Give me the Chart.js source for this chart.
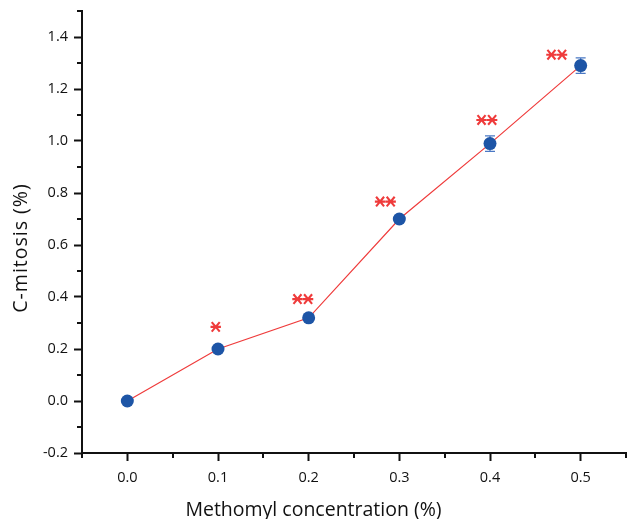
<!DOCTYPE html>
<html>
<head>
<meta charset="utf-8">
<script src="https://cdn.jsdelivr.net/npm/chart.js@4/dist/chart.umd.min.js"></script>
<style>
  html, body { margin: 0; padding: 0; background: #fff; }
  #wrap { width: 627px; height: 519px; position: relative; }
</style>
</head>
<body>
<div id="wrap"><canvas id="myChart"></canvas></div>
<script>
const concentrations = [0.0, 0.1, 0.2, 0.3, 0.4, 0.5];
const mitosis = [0.0, 0.20, 0.32, 0.70, 0.99, 1.29];
const errors = [0.0, 0.005, 0.01, 0.012, 0.03, 0.03];
const sigText = ['', '*', '**', '**', '**', '**'];
const sigX = [null, 0.0975, 0.1935, 0.2846, 0.3965, 0.4736];
const sigY = [null, 0.285, 0.392, 0.767, 1.081, 1.332];

const FONT = "'Open Sans', 'Noto Sans', sans-serif";
const BLUE = '#1d55a6';
const RED = '#ef3b3b';

const isMajorX = v => Math.abs(Math.round(v * 100)) % 10 === 0;
const isMajorY = v => Math.abs(Math.round(v * 10)) % 2 === 0;
const fmt = v => (Math.abs(v) < 1e-9 ? 0 : v).toFixed(1);

// minor ticks, error bars, significance stars, axis titles
const extras = {
    id: 'extras',
    beforeDatasetsDraw(chart) {
        const { ctx, scales: { x, y } } = chart;
        ctx.save();
        ctx.strokeStyle = '#4a78c4';
        ctx.lineWidth = 1.3;
        concentrations.forEach((c, i) => {
            if (!errors[i]) return;
            const px = x.getPixelForValue(c);
            const top = y.getPixelForValue(mitosis[i] + errors[i]);
            const bot = y.getPixelForValue(mitosis[i] - errors[i]);
            ctx.beginPath();
            ctx.moveTo(px, top); ctx.lineTo(px, bot);
            ctx.moveTo(px - 5, top); ctx.lineTo(px + 5, top);
            ctx.moveTo(px - 5, bot); ctx.lineTo(px + 5, bot);
            ctx.stroke();
        });
        ctx.restore();
    },
    afterDraw(chart) {
        const { ctx, chartArea, scales: { x, y } } = chart;
        ctx.save();
        // minor ticks
        ctx.strokeStyle = '#111';
        ctx.lineWidth = 2;
        ctx.beginPath();
        x.ticks.forEach(t => {
            if (isMajorX(t.value)) return;
            const px = Math.round(x.getPixelForValue(t.value));
            ctx.moveTo(px, chartArea.bottom); ctx.lineTo(px, chartArea.bottom + 5);
        });
        y.ticks.forEach(t => {
            if (isMajorY(t.value)) return;
            const py = Math.round(y.getPixelForValue(t.value));
            ctx.moveTo(chartArea.left, py); ctx.lineTo(chartArea.left - 5, py);
        });
        ctx.stroke();

        // significance stars
        ctx.strokeStyle = RED;
        ctx.lineWidth = 2.1;
        const star = (cx, cy) => {
            ctx.moveTo(cx - 5.2, cy); ctx.lineTo(cx + 5.2, cy);
            ctx.moveTo(cx - 4, cy - 4.8); ctx.lineTo(cx + 4, cy + 4.8);
            ctx.moveTo(cx + 4, cy - 4.8); ctx.lineTo(cx - 4, cy + 4.8);
        };
        ctx.beginPath();
        sigText.forEach((s, i) => {
            if (!s) return;
            const cx = x.getPixelForValue(sigX[i]);
            const cy = y.getPixelForValue(sigY[i]);
            if (s.length === 1) star(cx, cy);
            else { star(cx - 5.3, cy); star(cx + 5.3, cy); }
        });
        ctx.stroke();

        // axis titles
        ctx.fillStyle = '#111';
        ctx.font = '19.5px ' + FONT;
        ctx.textAlign = 'center';
        ctx.textBaseline = 'alphabetic';
        ctx.fillText('Methomyl concentration (%)', 313.5, 516);
        ctx.translate(27, 248);
        ctx.rotate(-Math.PI / 2);
        ctx.letterSpacing = '1px';
        ctx.fillText('C-mitosis (%)', 0, 0);
        ctx.restore();
    }
};

const config = {
    type: 'line',
    data: {
        datasets: [{
            data: concentrations.map((c, i) => ({ x: c, y: mitosis[i] })),
            borderColor: RED,
            borderWidth: 1.2,
            pointBackgroundColor: BLUE,
            pointBorderColor: BLUE,
            pointBorderWidth: 0,
            pointRadius: 6.5,
            tension: 0,
        }]
    },
    options: {
        responsive: true,
        maintainAspectRatio: false,
        animation: false,
        layout: { autoPadding: false, padding: { top: 11, right: 1, left: 0, bottom: 0 } },
        plugins: {
            legend: { display: false },
            tooltip: { enabled: false },
        },
        scales: {
            x: {
                type: 'linear',
                min: -0.05,
                max: 0.55,
                afterFit: s => { s.height = 66; s.paddingLeft = 0; s.paddingRight = 0; },
                border: { display: true, color: '#111', width: 2 },
                grid: {
                    drawOnChartArea: false,
                    drawTicks: true,
                    tickLength: 8,
                    tickWidth: 2,
                    tickColor: c => (c.tick && isMajorX(c.tick.value)) ? '#111' : 'rgba(0,0,0,0)',
                },
                ticks: {
                    stepSize: 0.05,
                    autoSkip: false,
                    maxRotation: 0,
                    padding: 8,
                    color: '#111',
                    font: { family: FONT, size: 14.5 },
                    callback: v => isMajorX(v) ? fmt(v) : '',
                },
            },
            y: {
                min: -0.2,
                max: 1.5,
                afterFit: s => { s.width = 82; s.paddingTop = 0; s.paddingBottom = 0; },
                border: { display: true, color: '#111', width: 2 },
                grid: {
                    drawOnChartArea: false,
                    drawTicks: true,
                    tickLength: 8,
                    tickWidth: 2,
                    tickColor: c => (c.tick && isMajorY(c.tick.value)) ? '#111' : 'rgba(0,0,0,0)',
                },
                ticks: {
                    stepSize: 0.1,
                    autoSkip: false,
                    padding: 6,
                    color: '#111',
                    font: { family: FONT, size: 14.5 },
                    callback: v => isMajorY(v) ? fmt(v) : '',
                },
            },
        },
    },
    plugins: [extras],
};

const ctx = document.getElementById('myChart').getContext('2d');
new Chart(ctx, config);
</script>
</body>
</html>
